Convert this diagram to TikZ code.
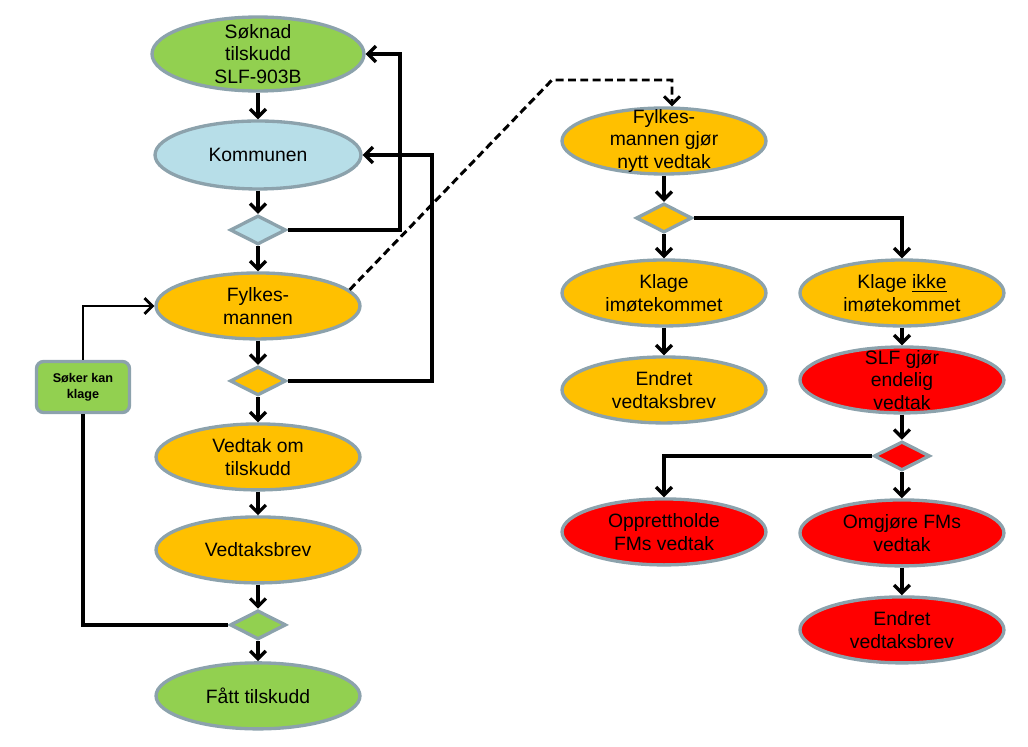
\documentclass[tikz,border=0pt]{standalone}
\usepackage{fontspec}
\setmainfont{Liberation Sans}
\usetikzlibrary{positioning,shapes.geometric,arrows.meta}
\definecolor{grn}{HTML}{92D050}
\definecolor{lblue}{HTML}{B7DEE8}
\definecolor{orng}{HTML}{FFC000}
\definecolor{rd}{HTML}{FF0000}
\definecolor{rim}{RGB}{140,162,172}

\begin{document}
\begin{tikzpicture}[x=0.02cm,y=-0.02cm,font=\fontsize{11}{13}\selectfont]
    \tikzstyle{oval}=[ellipse, draw=rim, line width=1.9pt, minimum width=4.08cm, minimum height=1.32cm, inner xsep=0pt, inner ysep=-30pt, align=center, on grid]
    \tikzstyle{choice}=[diamond, draw=rim, line width=1.9pt, minimum width=1.12cm, minimum height=0.58cm, inner sep=0pt, on grid]
    \tikzstyle{conn}=[line width=1.9pt, -{Straight Barb[length=4.5pt,width=9pt]}]
    \useasboundingbox (0,0) rectangle (1028,747);

    % left column
    \node[oval,fill=grn,minimum width=4.24cm,minimum height=1.48cm] (soknad) at (258,54) {Søknad\\tilskudd\\SLF-903B};
    \node[oval,fill=lblue,minimum width=4.12cm,minimum height=1.36cm,below=2.02cm of soknad] (kommunen) {Kommunen};
    \node[choice,fill=lblue,below=1.5cm of kommunen] (d1) {};
    \node[oval,fill=orng,below=1.52cm of d1] (fylkes) {Fylkes-\\mannen};
    \node[choice,fill=orng,below=1.5cm of fylkes] (d2) {};
    \node[oval,fill=orng,below=1.52cm of d2] (vedtakom) {Vedtak om\\tilskudd};
    \node[oval,fill=orng,below=1.86cm of vedtakom] (vedtaksbrev) {Vedtaksbrev};
    \node[choice,fill=grn,below=1.5cm of vedtaksbrev] (d3) {};
    \node[oval,fill=grn,below=1.42cm of d3] (fatt) {Fått tilskudd};

    \node[draw=rim, fill=grn, line width=1.9pt, rounded corners=4pt, minimum width=1.86cm, minimum height=1.02cm, align=center, font=\fontsize{7.2}{9}\selectfont\bfseries] (klagebox) at (83,387) {Søker kan\\klage};

    % right columns
    \node[oval,fill=orng] (fm2) at (664,141) {Fylkes-\\mannen gjør\\nytt vedtak};
    \node[choice,fill=orng,below=1.54cm of fm2] (d4) {};
    \node[oval,fill=orng,below=1.5cm of d4] (klage) {Klage\\imøtekommet};
    \node[oval,fill=orng,below=1.94cm of klage] (endret1) {Endret\\vedtaksbrev};
    \node[oval,fill=orng,right=4.76cm of klage] (klageikke) {Klage \underline{ikke}\\imøtekommet};
    \node[oval,fill=rd,below=1.74cm of klageikke] (slf) {SLF gjør\\endelig\\vedtak};
    \node[choice,fill=rd,below=1.52cm of slf] (d5) {};
    \node[oval,fill=rd,below=2.84cm of endret1] (opprett) {Opprettholde\\FMs vedtak};
    \node[oval,fill=rd,below=1.54cm of d5] (omgjore) {Omgjøre FMs\\vedtak};
    \node[oval,fill=rd,below=1.94cm of omgjore] (endret2) {Endret\\vedtaksbrev};

    \coordinate (bend) at (552,80);

    \foreach \a/\b in {soknad/kommunen, kommunen/d1, d1/fylkes, fylkes/d2, d2/vedtakom,
        vedtakom/vedtaksbrev, vedtaksbrev/d3, d3/fatt, fm2/d4, d4/klage, klage/endret1,
        klageikke/slf, slf/d5, d5/omgjore, omgjore/endret2}
        \draw[conn] (\a) -- (\b);

    \draw[conn] (d1) -- +(2.84cm,0) |- (soknad);
    \draw[conn] (d2) -- +(3.48cm,0) |- (kommunen);
    \draw[line width=1.9pt] (d3) -| (klagebox);
    \draw[conn,line width=1.6pt] (klagebox) |- (fylkes);
    \draw[conn] (d4) -| (klageikke);
    \draw[conn] (d5) -| (opprett);
    \draw[conn,line width=1.7pt,dash pattern=on 4.5pt off 2.5pt] (fylkes.10) -- (bend) -| ([xshift=0.16cm]fm2.north);
\end{tikzpicture}
\end{document}
